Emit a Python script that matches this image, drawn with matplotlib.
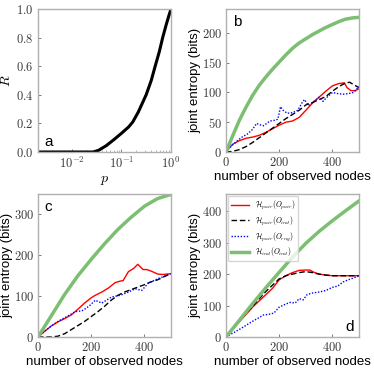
import numpy as np
import matplotlib
matplotlib.use("Agg")
import matplotlib.pyplot as plt
from matplotlib.ticker import FixedLocator, FuncFormatter, NullFormatter

plt.rcParams['font.family'] = ['Liberation Sans', 'DejaVu Sans']
plt.rcParams['mathtext.fontset'] = 'cm'

# ---- panel a data ----
p_vals = [0.0021, 0.01, 0.02, 0.027, 0.035, 0.05, 0.07, 0.1, 0.14, 0.17, 0.22, 0.316, 0.4, 0.48, 0.58, 0.68, 0.8, 0.9, 1.0]
R_vals = [0.0, 0.0, 0.0, 0.0, 0.012, 0.045, 0.085, 0.13, 0.175, 0.21, 0.28, 0.40, 0.50, 0.60, 0.70, 0.80, 0.89, 0.95, 1.0]

# ---- panel b data ----
b_green_x = [0, 25, 50, 75, 100, 125, 150, 175, 200, 225, 250, 275, 300, 325, 350, 375, 400, 425, 450, 475, 500]
b_green_y = [0, 27, 53, 75, 95, 112, 126, 139, 151, 163, 174, 183, 190, 197, 203, 209, 214, 219, 223, 225, 226]
b_red_x = [0, 10, 25, 50, 75, 100, 125, 150, 175, 200, 225, 250, 275, 300, 325, 350, 375, 400, 425, 445, 455, 470, 485, 500]
b_red_y = [0, 6, 13, 19, 23, 25, 28, 33, 39, 45, 50, 52, 58, 70, 82, 92, 102, 111, 115, 116, 108, 103, 103, 106]
b_black_x = [0, 25, 50, 75, 100, 125, 150, 175, 200, 225, 250, 275, 300, 325, 350, 375, 400, 425, 450, 465, 480, 500]
b_black_y = [0, 1, 4, 9, 16, 24, 32, 40, 48, 56, 63, 70, 79, 83, 88, 93, 102, 110, 116, 117, 113, 108]
b_blue_x = [0, 20, 40, 60, 80, 100, 115, 125, 140, 150, 165, 180, 195, 205, 215, 230, 250, 270, 285, 295, 310, 330, 350, 365, 375, 390, 400, 420, 440, 460, 480, 500]
b_blue_y = [0, 10, 18, 25, 30, 38, 48, 46, 44, 47, 52, 53, 55, 76, 70, 65, 66, 70, 82, 88, 78, 85, 92, 85, 90, 96, 100, 98, 97, 98, 100, 110]

# ---- panel c data ----
c_green_x = [0, 50, 100, 150, 200, 250, 300, 350, 400, 450, 500]
c_green_y = [0, 52, 104, 150, 190, 228, 263, 293, 320, 339, 349]
c_red_x = [0, 25, 50, 75, 100, 125, 150, 175, 200, 215, 240, 265, 290, 310, 320, 340, 360, 375, 395, 410, 430, 450, 470, 500]
c_red_y = [0, 14, 27, 37, 45, 54, 68, 83, 96, 102, 110, 120, 133, 137, 138, 160, 168, 178, 165, 165, 160, 154, 153, 155]
c_black_x = [0, 50, 75, 100, 125, 150, 175, 200, 225, 250, 275, 300, 325, 350, 375, 400, 425, 450, 475, 500]
c_black_y = [0, 0, 2, 8, 18, 28, 38, 50, 62, 75, 90, 102, 110, 116, 122, 128, 135, 140, 148, 155]
c_blue_x = [0, 25, 50, 75, 100, 125, 140, 165, 180, 196, 215, 240, 277, 309, 340, 365, 390, 415, 452, 500]
c_blue_y = [0, 14, 27, 38, 47, 56, 62, 64, 70, 78, 90, 83, 98, 102, 110, 118, 114, 132, 143, 155]

# ---- panel d data ----
d_green_x = [0, 50, 100, 150, 200, 250, 300, 350, 400, 450, 500]
d_green_y = [0, 53, 106, 157, 206, 254, 298, 336, 370, 402, 433]
d_red_x = [0, 50, 100, 125, 150, 175, 200, 225, 250, 275, 300, 315, 330, 350, 375, 400, 450, 500]
d_red_y = [0, 48, 95, 115, 135, 155, 182, 195, 205, 212, 213, 213, 206, 200, 197, 195, 195, 195]
d_black_x = [0, 50, 100, 150, 200, 225, 250, 275, 300, 325, 350, 375, 400, 500]
d_black_y = [0, 50, 98, 145, 185, 195, 200, 205, 208, 205, 200, 197, 195, 195]
d_blue_x = [0, 25, 50, 75, 100, 125, 140, 160, 180, 200, 220, 240, 260, 275, 290, 305, 325, 350, 375, 400, 420, 440, 460, 480, 500]
d_blue_y = [0, 12, 24, 37, 50, 62, 70, 72, 76, 95, 103, 110, 108, 122, 118, 135, 140, 143, 148, 158, 162, 175, 182, 188, 195]

legend_labels = [r'$\mathcal{H}_{pair}(O_{pair})$', r'$\mathcal{H}_{pair}(O_{ind})$',
                 r'$\mathcal{H}_{pair}(O_{rng})$', r'$\mathcal{H}_{ind}(O_{ind})$']

GREEN = '#7dbf72'
SPINE = '#b0b0b0'
TICKC = '#3a3a3a'

fig = plt.figure(figsize=(3.74, 3.71), dpi=100)
W, H = 374, 371
def ax_at(l, t, r, b):
    return fig.add_axes([l / W, 1 - b / H, (r - l) / W, (b - t) / H])

axa = ax_at(38, 9, 171, 152)
axb = ax_at(226, 9, 359, 152)
axc = ax_at(38, 194, 171, 337)
axd = ax_at(226, 194, 359, 337)

def style(ax):
    for s in ax.spines.values():
        s.set_color(SPINE)
        s.set_linewidth(1.0)
    ax.tick_params(direction='in', length=2.5, width=0.6, color='#666666',
                   labelsize=9, labelcolor=TICKC, pad=3)
    ax.tick_params(which='minor', direction='in', length=1.5, width=0.5, color='#999999')

mfmt = FuncFormatter(lambda v, pos: f'${v:g}$')

# panel a
axa.plot(p_vals, R_vals, color='k', lw=2.2)
axa.set_xscale('log')
axa.set_xlim(0.0021, 1.0)
axa.set_ylim(0, 1.0)
axa.xaxis.set_major_locator(FixedLocator([1e-2, 1e-1, 1e0]))
axa.xaxis.set_major_formatter(FuncFormatter(lambda v, pos: f'$10^{{{int(round(np.log10(v)))}}}$'))
axa.xaxis.set_minor_formatter(NullFormatter())
axa.yaxis.set_major_locator(FixedLocator([0, 0.2, 0.4, 0.6, 0.8, 1.0]))
axa.yaxis.set_major_formatter(FuncFormatter(lambda v, pos: f'${v:.1f}$'))
axa.set_xlabel(r'$p$', fontsize=10, labelpad=1)
axa.set_ylabel(r'$R$', fontsize=10, labelpad=2)
style(axa)
axa.text(0.05, 0.02, 'a', transform=axa.transAxes, fontsize=11, ha='left', va='bottom')

def entropy_panel(ax, gx, gy, rx, ry, kx, ky, bx, by, ymax, yticks):
    ax.plot(rx, ry, color='red', lw=1.0, label=legend_labels[0])
    ax.plot(kx, ky, color='k', lw=1.0, ls=(0, (4, 2)), label=legend_labels[1])
    ax.plot(bx, by, color='blue', lw=1.0, ls=(0, (1, 1.2)), label=legend_labels[2])
    ax.plot(gx, gy, color=GREEN, lw=2.5, label=legend_labels[3])
    ax.set_xlim(0, 500)
    ax.set_ylim(0, ymax)
    ax.xaxis.set_major_locator(FixedLocator([0, 200, 400]))
    ax.yaxis.set_major_locator(FixedLocator(yticks))
    ax.xaxis.set_major_formatter(mfmt)
    ax.yaxis.set_major_formatter(mfmt)
    ax.set_xlabel('number of observed nodes', fontsize=9.5, labelpad=1)
    ax.set_ylabel('joint entropy (bits)', fontsize=9.5, labelpad=0.5)
    style(ax)

entropy_panel(axb, b_green_x, b_green_y, b_red_x, b_red_y, b_black_x, b_black_y,
              b_blue_x, b_blue_y, 240, [0, 50, 100, 150, 200])
axb.text(0.05, 0.96, 'b', transform=axb.transAxes, fontsize=11, ha='left', va='top')

entropy_panel(axc, c_green_x, c_green_y, c_red_x, c_red_y, c_black_x, c_black_y,
              c_blue_x, c_blue_y, 350, [0, 100, 200, 300])
axc.text(0.05, 0.96, 'c', transform=axc.transAxes, fontsize=11, ha='left', va='top')

entropy_panel(axd, d_green_x, d_green_y, d_red_x, d_red_y, d_black_x, d_black_y,
              d_blue_x, d_blue_y, 455, [0, 100, 200, 300, 400])
axd.text(0.96, 0.02, 'd', transform=axd.transAxes, fontsize=11, ha='right', va='bottom')
axd.legend(loc='upper left', fontsize=5.5, frameon=True, borderpad=0.4,
           labelspacing=0.35, handlelength=2.4, borderaxespad=0.2,
           edgecolor='#cccccc', fancybox=True)

fig.savefig('out.png', dpi=100)
